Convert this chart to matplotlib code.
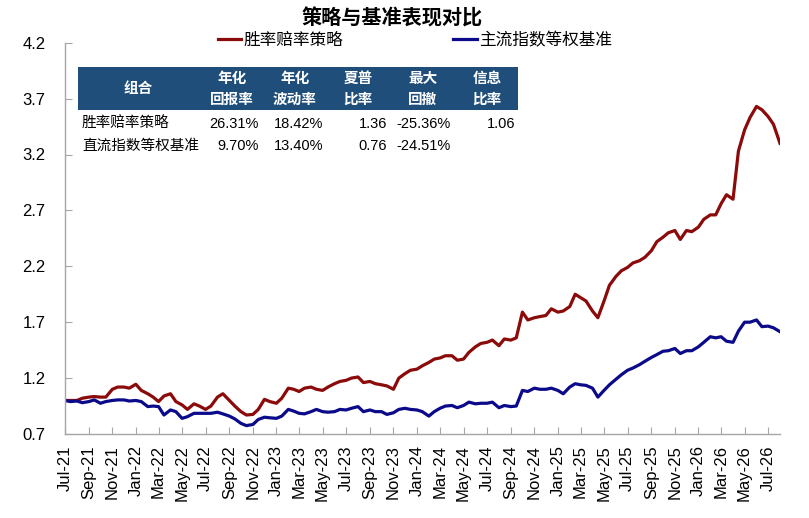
import matplotlib.pyplot as plt
import matplotlib.dates as mdates
import matplotlib.patches as patches
import pandas as pd

plt.rcParams['font.family'] = ['Liberation Sans', 'Noto Sans CJK SC', 'DejaVu Sans']

# semi-monthly sample dates, Jul-2021 .. Aug-2026
dates = pd.date_range('2021-07-01', periods=123, freq='SMS')

# 胜率赔率策略
strategy = [
    1.00, 1.00, 1.00, 1.02, 1.03, 1.035, 1.03, 1.03, 1.10, 1.12,
    1.12, 1.11, 1.145, 1.09, 1.06, 1.03, 0.99, 1.04, 1.06, 0.99,
    0.96, 0.92, 0.97, 0.95, 0.92, 0.95, 1.03, 1.06, 1.00, 0.95,
    0.90, 0.87, 0.875, 0.92, 1.01, 0.99, 0.975, 1.02, 1.11, 1.10,
    1.08, 1.11, 1.12, 1.10, 1.09, 1.12, 1.15, 1.17, 1.18, 1.20,
    1.21, 1.16, 1.17, 1.15, 1.14, 1.13, 1.10, 1.20, 1.24, 1.27,
    1.28, 1.31, 1.34, 1.37, 1.38, 1.40, 1.40, 1.36, 1.37, 1.43,
    1.48, 1.51, 1.52, 1.54, 1.49, 1.55, 1.54, 1.56, 1.79, 1.72,
    1.74, 1.75, 1.76, 1.82, 1.79, 1.80, 1.84, 1.95, 1.92, 1.89,
    1.80, 1.74, 1.89, 2.03, 2.11, 2.16, 2.19, 2.23, 2.25, 2.28,
    2.34, 2.42, 2.46, 2.50, 2.52, 2.44, 2.52, 2.51, 2.55, 2.62,
    2.66, 2.66, 2.76, 2.84, 2.80, 3.23, 3.42, 3.53, 3.63, 3.60,
    3.54, 3.47, 3.30,
]

# 主流指数等权基准
benchmark = [
    1.00, 0.99, 0.995, 0.98, 0.99, 1.005, 0.975, 0.99, 1.00, 1.005,
    1.005, 0.995, 1.00, 0.99, 0.945, 0.95, 0.945, 0.87, 0.915, 0.90,
    0.84, 0.855, 0.885, 0.885, 0.885, 0.885, 0.895, 0.88, 0.86, 0.835,
    0.795, 0.775, 0.785, 0.83, 0.85, 0.845, 0.84, 0.86, 0.92, 0.905,
    0.885, 0.88, 0.90, 0.92, 0.90, 0.895, 0.90, 0.92, 0.915, 0.93,
    0.945, 0.90, 0.915, 0.90, 0.90, 0.875, 0.89, 0.92, 0.93, 0.92,
    0.915, 0.90, 0.86, 0.90, 0.93, 0.95, 0.955, 0.935, 0.955, 0.985,
    0.97, 0.975, 0.975, 0.985, 0.935, 0.955, 0.945, 0.95, 1.09, 1.08,
    1.11, 1.10, 1.10, 1.11, 1.09, 1.06, 1.12, 1.15, 1.14, 1.135,
    1.11, 1.03, 1.09, 1.14, 1.19, 1.23, 1.27, 1.29, 1.32, 1.35,
    1.385, 1.41, 1.44, 1.445, 1.465, 1.42, 1.445, 1.445, 1.48, 1.52,
    1.57, 1.56, 1.57, 1.53, 1.52, 1.62, 1.70, 1.70, 1.72, 1.66,
    1.665, 1.65, 1.615,
]

# summary table
table_header = [["组合"], ["年化", "回报率"], ["年化", "波动率"],
                ["夏普", "比率"], ["最大", "回撤"], ["信息", "比率"]]
table_rows = ["胜率赔率策略", "直流指数等权基准"]
table_values = [
    ["26.31%", "18.42%", "1.36", "-25.36%", "1.06"],
    ["9.70%", "13.40%", "0.76", "-24.51%", ""],
]

W, H = 809, 518


def fx(x):
    return x / W


def fy(y):
    return 1 - y / H


fig = plt.figure(figsize=(8.09, 5.18), dpi=100)
ax = fig.add_axes([fx(65), fy(434), fx(780) - fx(65), fy(42.7) - fy(434)])

red = '#8B0A0A'
blue = '#0A0A8A'
ax.plot(dates, strategy, color=red, lw=2.3, label='胜率赔率策略')
ax.plot(dates, benchmark, color=blue, lw=2.3, label='主流指数等权基准')

ax.set_ylim(0.7, 4.2)
ax.set_yticks([0.7, 1.2, 1.7, 2.2, 2.7, 3.2, 3.7, 4.2])
ax.set_yticklabels(['0.7', '1.2', '1.7', '2.2', '2.7', '3.2', '3.7', '4.2'])
ax.set_xlim(pd.Timestamp('2021-07-01'), dates[-1])
ax.xaxis.set_major_locator(mdates.MonthLocator(bymonth=[1, 3, 5, 7, 9, 11]))
ax.xaxis.set_major_formatter(mdates.DateFormatter('%b-%y'))

for s in ['top', 'right']:
    ax.spines[s].set_visible(False)
for s in ['left', 'bottom']:
    ax.spines[s].set_color('#A6A6A6')
    ax.spines[s].set_linewidth(1.0)
ax.tick_params(axis='both', direction='in', length=5, color='#A6A6A6',
               labelsize=12, labelcolor='black')
ax.tick_params(axis='y', pad=14)
ax.tick_params(axis='x', pad=8, labelrotation=90)

fig.text(fx(392), fy(18), '策略与基准表现对比', ha='center', va='center',
         fontsize=14.5, fontweight='bold')

fig.legend(loc='center', bbox_to_anchor=(fx(415), fy(40)), ncol=2,
           frameon=False, fontsize=12, handlelength=1.4, handletextpad=0.15,
           columnspacing=6.6)

# table header
fig.patches.append(patches.Rectangle((fx(78), fy(110)), fx(518) - fx(78),
                                     fy(67) - fy(110), transform=fig.transFigure,
                                     facecolor='#1F4E7A', edgecolor='none'))
head_x = [138, 232, 295, 358, 423, 487]
for hx, lines in zip(head_x, table_header):
    if len(lines) == 1:
        fig.text(fx(hx), fy(89), lines[0], ha='center', va='center',
                 color='white', fontsize=10.5, fontweight='bold')
    else:
        fig.text(fx(hx), fy(79), lines[0], ha='center', va='center',
                 color='white', fontsize=10.5, fontweight='bold')
        fig.text(fx(hx), fy(100), lines[1], ha='center', va='center',
                 color='white', fontsize=10.5, fontweight='bold')

row_y = [124, 146]
val_x = [259, 323, 387, 451, 515]
for ry, name, vals in zip(row_y, table_rows, table_values):
    fig.text(fx(82), fy(ry), name, ha='left', va='center', fontsize=10.5)
    for vx, v in zip(val_x, vals):
        fig.text(fx(vx), fy(ry), v, ha='right', va='center', fontsize=10.5)

fig.savefig('out.png', dpi=100)
plt.close(fig)
